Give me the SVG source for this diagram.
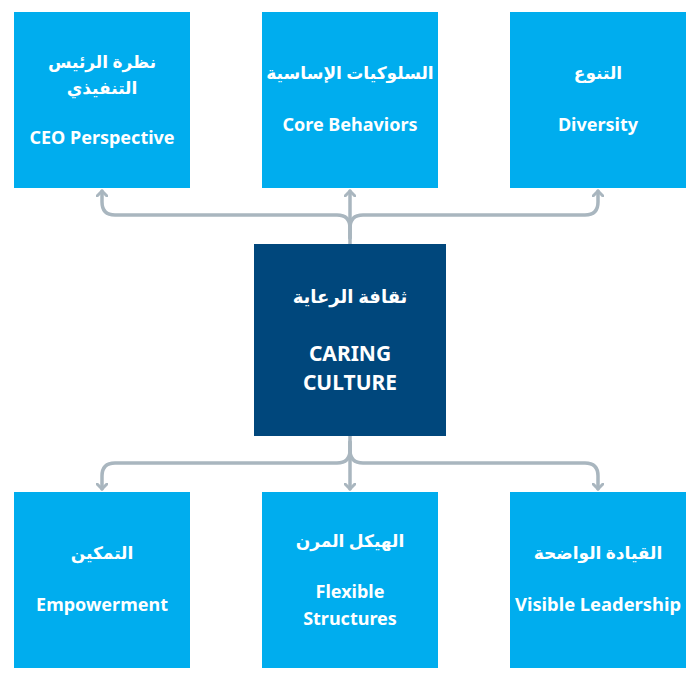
<svg xmlns="http://www.w3.org/2000/svg" width="696" height="680" viewBox="0 0 696 680">
<defs>
<marker id="arr" viewBox="0 0 12 12" refX="6" refY="6" markerWidth="12" markerHeight="12" markerUnits="userSpaceOnUse" orient="auto">
<path d="M1,1 L6,6 L1,11" fill="none" stroke="#A9B6BF" stroke-width="3" stroke-linecap="round" stroke-linejoin="round"/>
</marker>
<style>
.box{fill:#00ADEE}
.core{fill:#00477C}
.t{font-family:"Noto Sans","DejaVu Sans",sans-serif;font-weight:bold;fill:#fff;text-anchor:middle;font-size:18px}
.ar{font-size:17px}
.c{font-size:21px}
.ca{font-size:18px}
.con{fill:none;stroke:#A9B6BF;stroke-width:3.5;stroke-linecap:round;stroke-linejoin:round}
</style>
</defs>
<rect width="696" height="680" fill="#fff"/>
<g id="connectors">
<path class="con" d="M350,244 V191" marker-end="url(#arr)"/>
<path class="con" d="M350,238 V228 Q350,215 337,215 H115 Q102,215 102,202 V191" marker-end="url(#arr)"/>
<path class="con" d="M350,238 V228 Q350,215 363,215 H585 Q598,215 598,202 V191" marker-end="url(#arr)"/>
<path class="con" d="M350,436 V489" marker-end="url(#arr)"/>
<path class="con" d="M350,442 V450 Q350,463 337,463 H115 Q102,463 102,476 V489" marker-end="url(#arr)"/>
<path class="con" d="M350,442 V450 Q350,463 363,463 H585 Q598,463 598,476 V489" marker-end="url(#arr)"/>
</g>
<g id="ceo">
<rect class="box" x="14" y="12" width="176" height="176"/>
<text class="t ar" x="102" y="68">نظرة الرئيس</text>
<text class="t ar" x="102" y="94">التنفيذي</text>
<text class="t" x="102" y="144">CEO Perspective</text>
</g>
<g id="core-behaviors">
<rect class="box" x="262" y="12" width="176" height="176"/>
<text class="t ar" x="350" y="79">السلوكيات الإساسية</text>
<text class="t" x="350" y="131">Core Behaviors</text>
</g>
<g id="diversity">
<rect class="box" x="510" y="12" width="176" height="176"/>
<text class="t ar" x="598" y="79">التنوع</text>
<text class="t" x="598" y="131">Diversity</text>
</g>
<g id="caring-culture">
<rect class="core" x="254" y="244" width="192" height="192"/>
<text class="t ca" x="350" y="303">ثقافة الرعاية</text>
<text class="t c" x="350" y="361">CARING</text>
<text class="t c" x="350" y="390">CULTURE</text>
</g>
<g id="empowerment">
<rect class="box" x="14" y="492" width="176" height="176"/>
<text class="t ar" x="102" y="559">التمكين</text>
<text class="t" x="102" y="611">Empowerment</text>
</g>
<g id="flexible-structures">
<rect class="box" x="262" y="492" width="176" height="176"/>
<text class="t ar" x="350" y="547">الهيكل المرن</text>
<text class="t" x="350" y="598">Flexible</text>
<text class="t" x="350" y="625">Structures</text>
</g>
<g id="visible-leadership">
<rect class="box" x="510" y="492" width="176" height="176"/>
<text class="t ar" x="598" y="559">القيادة الواضحة</text>
<text class="t" x="598" y="611" textLength="166" lengthAdjust="spacingAndGlyphs">Visible Leadership</text>
</g>
</svg>
